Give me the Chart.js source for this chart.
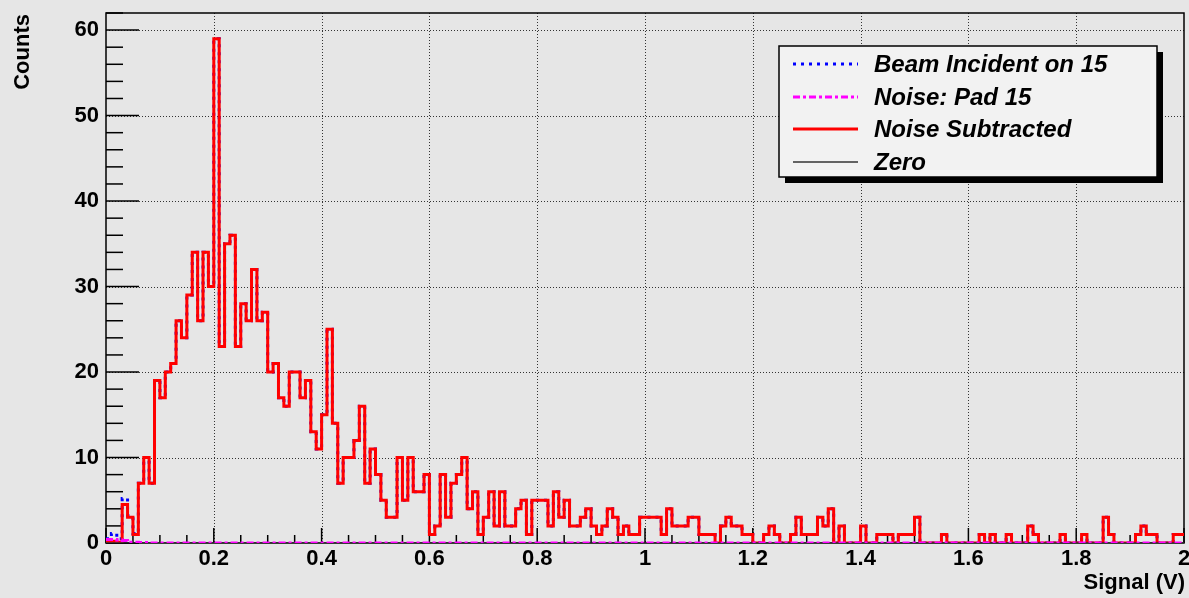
<!DOCTYPE html>
<html>
<head>
<meta charset="utf-8">
<script src="https://cdn.jsdelivr.net/npm/chart.js@4.4.1/dist/chart.umd.min.js"></script>
<style>
html,body{margin:0;padding:0;background:#e6e6e6;}
#wrap{width:1189px;height:598px;}
</style>
</head>
<body>
<div id="wrap"><canvas id="histChart" width="1189" height="598"></canvas></div>
<script>
//======================================
// Data (bins of 0.01 V from 0 to 2 V)
//======================================

const binWidth = 0.01;

const subtractedCounts = [
  0.1,0.2,0.1,4.5,3,1,7,10,7,19,17,20,21,26,24,29,34,26,34,30,
  59,23,35,36,23,28,26,32,26,27,20,21,17,16,20,20,17,19,13,11,
  15,25,14,7,10,10,12,16,7,11,8,5,3,3,10,5,10,6,6,8,
  1,2,8,3,7,8,10,4,6,1,3,6,2,6,2,2,4,5,1,5,
  5,5,2,6,3,5,2,2,3,4,2,1,2,4,3,1,2,1,1,3,
  3,3,3,1,4,2,2,2,3,3,1,1,1,0,2,3,2,2,1,1,
  0,0,1,2,1,0,0,1,3,1,1,1,3,2,4,0,2,0,0,0,
  2,0,0,1,1,1,0,1,1,1,3,0,0,0,0,1,0,0,0,0,
  0,0,1,0,1,0,0,1,0,0,0,2,1,0,0,0,0,1,0,0,
  0,1,0,0,0,3,1,0,0,0,0,1,2,1,1,0,0,0,1,1
];

const beamCounts = [
  0.5,1.1,0.5,5.2,3.2,1.1,7,10,7,19,17,20,21,26,24,29,34,26,34,30,
  59,23,35,36,23,28,26,32,26,27,20,21,17,16,20,20,17,19,13,11,
  15,25,14,7,10,10,12,16,7,11,8,5,3,3,10,5,10,6,6,8,
  1,2,8,3,7,8,10,4,6,1,3,6,2,6,2,2,4,5,1,5,
  5,5,2,6,3,5,2,2,3,4,2,1,2,4,3,1,2,1,1,3,
  3,3,3,1,4,2,2,2,3,3,1,1,1,0,2,3,2,2,1,1,
  0,0,1,2,1,0,0,1,3,1,1,1,3,2,4,0,2,0,0,0,
  2,0,0,1,1,1,0,1,1,1,3,0,0,0,0,1,0,0,0,0,
  0,0,1,0,1,0,0,1,0,0,0,2,1,0,0,0,0,1,0,0,
  0,1,0,0,0,3,1,0,0,0,0,1,2,1,1,0,0,0,1,1
];

const noiseCounts = [
  0.4,0.4,0.35,0.3,0.1,0.1,0.05,0.05,0,0,0,0,0,0,0,0,0,0,0,0,
  0,0,0,0,0,0,0,0,0,0,0,0,0,0,0,0,0,0,0,0,
  0,0,0,0,0,0,0,0,0,0,0,0,0,0,0,0,0,0,0,0,
  0,0,0,0,0,0,0,0,0,0,0,0,0,0,0,0,0,0,0,0,
  0,0,0,0,0,0,0,0,0,0,0,0,0,0,0,0,0,0,0,0,
  0,0,0,0,0,0,0,0,0,0,0,0,0,0,0,0,0,0,0,0,
  0,0,0,0,0,0,0,0,0,0,0,0,0,0,0,0,0,0,0,0,
  0,0,0,0,0,0,0,0,0,0,0,0,0,0,0,0,0,0,0,0,
  0,0,0,0,0,0,0,0,0,0,0,0,0,0,0,0,0,0,0,0,
  0,0,0,0,0,0,0,0,0,0,0,0,0,0,0,0,0,0,0,0
];

const zeroX = [0, 2];
const zeroY = [0, 0];

const seriesNames = ["Beam Incident on 15", "Noise: Pad 15", "Noise Subtracted", "Zero"];

const xTickValues = [0, 0.2, 0.4, 0.6, 0.8, 1, 1.2, 1.4, 1.6, 1.8, 2];
const xTickLabels = ["0", "0.2", "0.4", "0.6", "0.8", "1", "1.2", "1.4", "1.6", "1.8", "2"];
const yTickValues = [0, 10, 20, 30, 40, 50, 60];
const yTickLabels = ["0", "10", "20", "30", "40", "50", "60"];

const xTitle = "Signal (V)";
const yTitle = "Counts";


//======================================
// Helpers
//======================================

const FONT = '"Liberation Sans", Arial, Helvetica, sans-serif';

function toSteps(counts){

    let pts = counts.map((c, i) => ({ x: +(i * binWidth).toFixed(2), y: c }));

    pts.push({ x: +(counts.length * binWidth).toFixed(2), y: counts[counts.length - 1] });

    return pts;

}

const styles = [
    { color: "#0000ff", width: 3, dash: [3, 5] },
    { color: "#ff00ff", width: 3, dash: [7, 3, 3, 3] },
    { color: "#ff0000", width: 3, dash: [] },
    { color: "#333333", width: 1.3, dash: [] }
];


//======================================
// ROOT style frame, ticks, grid, legend
//======================================

const rootFrame = {

    id: "rootFrame",

    beforeDraw(chart){
        const ctx = chart.ctx;
        ctx.save();
        ctx.fillStyle = "#e6e6e6";
        ctx.fillRect(0, 0, chart.width, chart.height);
        ctx.restore();
    },

    beforeDatasetsDraw(chart){

        const ctx = chart.ctx;
        const a = chart.chartArea;
        const xs = chart.scales.x;
        const ys = chart.scales.y;

        ctx.save();

        // dotted grid
        ctx.strokeStyle = "#333";
        ctx.lineWidth = 1;
        ctx.setLineDash([1, 2]);
        xTickValues.forEach(v => {
            const px = Math.round(xs.getPixelForValue(v)) + 0.5;
            if (px <= a.left + 1 || px >= a.right - 1) return;
            ctx.beginPath();
            ctx.moveTo(px, a.top);
            ctx.lineTo(px, a.bottom);
            ctx.stroke();
        });
        yTickValues.forEach(v => {
            const py = Math.round(ys.getPixelForValue(v)) + 0.5;
            if (py >= a.bottom - 1) return;
            ctx.beginPath();
            ctx.moveTo(a.left, py);
            ctx.lineTo(a.right, py);
            ctx.stroke();
        });
        ctx.setLineDash([]);

        // ticks (inside the frame)
        ctx.strokeStyle = "#000";
        ctx.lineWidth = 1.5;
        for (let v = 0; v <= 2.0001; v += 0.05) {
            const major = Math.abs(v / 0.2 - Math.round(v / 0.2)) < 1e-6;
            const px = xs.getPixelForValue(v);
            ctx.beginPath();
            ctx.moveTo(px, a.bottom);
            ctx.lineTo(px, a.bottom - (major ? 15 : 8));
            ctx.stroke();
        }
        for (let v = 0; v <= 62; v += 2) {
            const major = v % 10 === 0;
            const py = ys.getPixelForValue(v);
            ctx.beginPath();
            ctx.moveTo(a.left, py);
            ctx.lineTo(a.left + (major ? 33 : 17), py);
            ctx.stroke();
        }

        // frame
        ctx.lineWidth = 1.5;
        ctx.strokeRect(a.left, a.top, a.right - a.left, a.bottom - a.top);

        ctx.restore();

    },

    afterDatasetsDraw(chart){

        const ctx = chart.ctx;
        const a = chart.chartArea;

        ctx.save();

        // axis titles
        ctx.fillStyle = "#000";
        ctx.font = "bold 22px " + FONT;
        ctx.textAlign = "right";
        ctx.textBaseline = "middle";
        ctx.fillText(xTitle, a.right + 1, 583);

        ctx.translate(23, 14);
        ctx.rotate(-Math.PI / 2);
        ctx.fillText(yTitle, 0, 0);
        ctx.setTransform(1, 0, 0, 1, 0, 0);

        // legend box with shadow
        const lx = 779, ly = 46, lw = 378, lh = 131;
        ctx.fillStyle = "#000";
        ctx.fillRect(lx + 6, ly + 6, lw, lh);
        ctx.fillStyle = "#f2f2f2";
        ctx.fillRect(lx, ly, lw, lh);
        ctx.strokeStyle = "#000";
        ctx.lineWidth = 1.5;
        ctx.strokeRect(lx, ly, lw, lh);

        const rows = [64, 97, 129, 162];
        ctx.font = "italic bold 24px " + FONT;
        ctx.textAlign = "left";
        ctx.textBaseline = "middle";
        seriesNames.forEach((name, i) => {
            const st = styles[i];
            ctx.strokeStyle = st.color;
            ctx.lineWidth = st.width;
            ctx.setLineDash(st.dash);
            ctx.beginPath();
            ctx.moveTo(793, rows[i]);
            ctx.lineTo(858, rows[i]);
            ctx.stroke();
            ctx.setLineDash([]);
            ctx.fillStyle = "#000";
            ctx.fillText(name, 874, rows[i] + 1);
        });

        ctx.restore();

    }

};


//======================================
// Chart
//======================================

function makeSet(i, data, order){
    return {
        label: seriesNames[i],
        data: data,
        borderColor: styles[i].color,
        borderWidth: styles[i].width,
        borderDash: styles[i].dash,
        borderJoinStyle: "miter",
        stepped: i < 3,
        pointRadius: 0,
        tension: 0,
        fill: false,
        order: order
    };
}

const zeroPoints = zeroX.map((x, i) => ({ x: x, y: zeroY[i] }));

const tickFont = { family: FONT, weight: "bold", size: 22 };

new Chart(document.getElementById("histChart"), {

    type: "line",

    data: {
        datasets: [
            makeSet(0, toSteps(beamCounts), 4),
            makeSet(1, toSteps(noiseCounts), 1),
            makeSet(2, toSteps(subtractedCounts), 3),
            makeSet(3, zeroPoints, 2)
        ]
    },

    options: {

        responsive: false,
        animation: false,
        devicePixelRatio: 1,

        layout: { padding: { left: 0, right: 5, top: 13, bottom: 0 } },

        plugins: {
            legend: { display: false },
            tooltip: { enabled: false }
        },

        scales: {

            x: {
                type: "linear",
                min: 0,
                max: 2,
                grid: { display: false, drawTicks: false },
                border: { display: false },
                afterBuildTicks: s => { s.ticks = xTickValues.map(v => ({ value: v })); },
                afterFit: s => {
                    s.height = 55;
                    s.paddingLeft = 0;
                    s.paddingRight = 0;
                    s.paddingTop = 0;
                    s.paddingBottom = 0;
                },
                ticks: {
                    callback: (v, i) => xTickLabels[i],
                    font: tickFont,
                    color: "#000",
                    padding: 3,
                    maxRotation: 0,
                    autoSkip: false
                }
            },

            y: {
                type: "linear",
                min: 0,
                max: 62,
                grid: { display: false, drawTicks: false },
                border: { display: false },
                afterBuildTicks: s => { s.ticks = yTickValues.map(v => ({ value: v })); },
                afterFit: s => {
                    s.width = 106;
                    s.paddingLeft = 0;
                    s.paddingRight = 0;
                    s.paddingTop = 0;
                    s.paddingBottom = 0;
                },
                ticks: {
                    callback: (v, i) => yTickLabels[i],
                    font: tickFont,
                    color: "#000",
                    padding: 7,
                    autoSkip: false
                }
            }

        }

    },

    plugins: [rootFrame]

});
</script>
</body>
</html>
